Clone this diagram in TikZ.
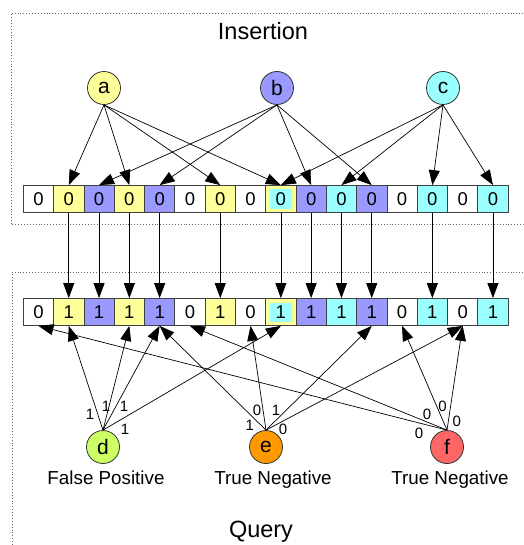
\documentclass[tikz,border=0pt]{standalone}
\usepackage{fontspec}
\setmainfont{Liberation Sans}
\usetikzlibrary{arrows.meta}
\definecolor{yel}{HTML}{FFFF99}
\definecolor{blu}{HTML}{9999FF}
\definecolor{cyn}{HTML}{99FFFF}
\definecolor{dcol}{HTML}{CCFF66}
\definecolor{ecol}{HTML}{FF9900}
\definecolor{fcol}{HTML}{FF6666}
\begin{document}
\begin{tikzpicture}[x=1pt,y=-1pt,
  cell/.style={draw=black!75, line width=0.8pt, minimum width=30.3pt, minimum height=27pt, inner sep=0pt, font=\fontsize{18.5}{20}\selectfont},
  nomix/.style={},
  inmix/.style={path picture={\fill[cyn] ([shift={(4pt,4pt)}]path picture bounding box.south west) rectangle ([shift={(-4pt,-4pt)}]path picture bounding box.north east);}},
  key/.style={circle, draw=black!80, line width=0.8pt, minimum size=33pt, inner sep=0pt, font=\fontsize{21}{24}\selectfont},
  arr/.style={line width=0.7pt, -{Triangle[length=15pt,width=11pt]}},
  bit/.style={inner sep=0pt, font=\fontsize{15}{16}\selectfont},
  frame/.style={draw=black!60, dotted, line width=0.9pt},
  title/.style={inner sep=0pt, anchor=base, font=\fontsize{23.5}{27}\selectfont},
  caption/.style={inner sep=0pt, anchor=base, font=\fontsize{18.8}{21}\selectfont}]
\useasboundingbox (0,0) rectangle (523,545);
% frames
\draw[frame] (523,13) -- (11,13) -- (11,224.5) -- (523,224.5);
\draw[frame] (523,272) -- (12,272) -- (12,545);
% titles
\node[title] (tins) at (263,40) {Insertion};
\node[title] (tqry) at (261,537) {Query};
% top array
\foreach \i/\c/\s in {0/white/nomix,1/yel/nomix,2/blu/nomix,3/yel/nomix,4/blu/nomix,5/white/nomix,6/yel/nomix,7/white/nomix,8/yel/inmix,9/blu/nomix,10/cyn/nomix,11/blu/nomix,12/white/nomix,13/cyn/nomix,14/white/nomix,15/cyn/nomix}
  \node[cell, fill=\c, \s] (t\i) at ({38.45+30.3*\i},199) {0};
% bottom array
\foreach \i/\c/\v/\s in {0/white/0/nomix,1/yel/1/nomix,2/blu/1/nomix,3/yel/1/nomix,4/blu/1/nomix,5/white/0/nomix,6/yel/1/nomix,7/white/0/nomix,8/yel/1/inmix,9/blu/1/nomix,10/cyn/1/nomix,11/blu/1/nomix,12/white/0/nomix,13/cyn/1/nomix,14/white/0/nomix,15/cyn/1/nomix}
  \node[cell, fill=\c, \s] (q\i) at ({38.45+30.3*\i},312) {\v};
% keys
\node[key, fill=yel] (a) at (104,88) {a};
\node[key, fill=blu] (b) at (277,88) {b};
\node[key, fill=cyn] (c) at (443,88) {c};
\node[key, fill=dcol] (d) at (103,447) {d};
\node[key, fill=ecol] (e) at (266,447) {e};
\node[key, fill=fcol] (f) at (447,447) {f};
% captions
\node[caption] (capd) at (106,484) {False Positive};
\node[caption] (cape) at (273,484) {True Negative};
\node[caption] (capf) at (450,484) {True Negative};
% insertion arrows
\foreach \k in {1,3,6,8} \draw[arr] (a.south) -- (t\k.north);
\foreach \k in {2,4,9,11} \draw[arr] (b.south) -- (t\k.north);
\foreach \k in {8,10,13,15} \draw[arr] (c.south) -- (t\k.north);
% transfer arrows
\foreach \k in {1,2,3,4,6,8,9,10,11,13,15} \draw[arr] (t\k.south) -- (q\k.north);
% query arrows
\foreach \k in {1,3,4,8} \draw[arr] (d.north) -- (q\k.south);
\foreach \k in {4,7,11,14} \draw[arr] (e.north) -- (q\k.south);
\foreach \k in {0,5,12,14} \draw[arr] (f.north) -- (q\k.south);
% bit labels
\node[bit] (d1) at (90,414.7) {1};
\node[bit] (d2) at (106,406) {1};
\node[bit] (d3) at (124,406) {1};
\node[bit] (d4) at (125,429) {1};
\node[bit] (e1) at (249.7,425) {1};
\node[bit] (e2) at (257,410) {0};
\node[bit] (e3) at (276,410) {1};
\node[bit] (e4) at (283,429) {0};
\node[bit] (f1) at (419,433) {0};
\node[bit] (f2) at (427,414.7) {0};
\node[bit] (f3) at (442.5,406) {0};
\node[bit] (f4) at (456.7,421) {0};
\end{tikzpicture}
\end{document}
